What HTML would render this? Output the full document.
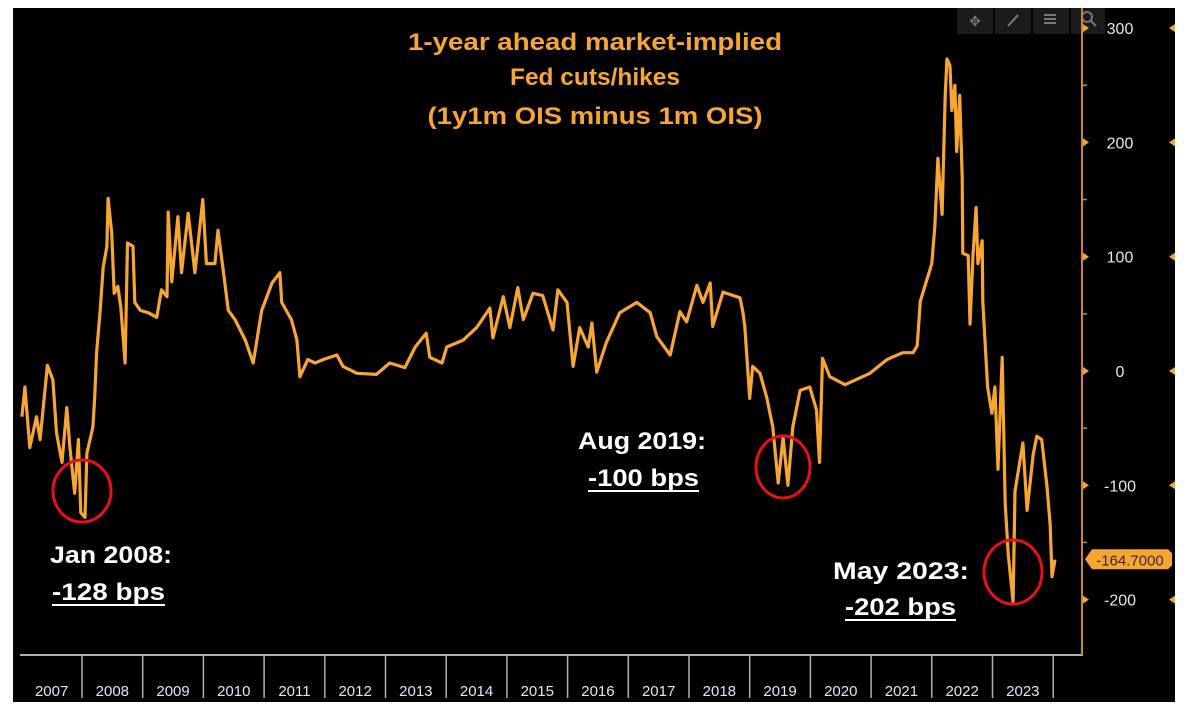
<!DOCTYPE html>
<html><head><meta charset="utf-8"><style>
html,body{margin:0;padding:0;background:#fff;}
svg{display:block;font-family:"Liberation Sans",sans-serif;}
</style></head><body>
<svg id="chart" width="1186" height="714" viewBox="0 0 1186 714" xmlns="http://www.w3.org/2000/svg">
<rect x="13" y="8" width="1162" height="694" fill="#000"/>
<g>
<rect x="957" y="8" width="36" height="26" fill="#1b1b1b"/>
<rect x="995" y="8" width="36" height="26" fill="#1b1b1b"/>
<rect x="1033" y="8" width="36" height="26" fill="#1b1b1b"/>
<rect x="1071" y="8" width="34" height="26" fill="#1b1b1b"/>
<text x="975" y="26" fill="#777" font-size="14" text-anchor="middle">✥</text>
<line x1="1008" y1="26" x2="1018" y2="15" stroke="#777" stroke-width="2"/>
<line x1="1044" y1="15" x2="1056" y2="15" stroke="#777" stroke-width="2"/><line x1="1044" y1="19" x2="1056" y2="19" stroke="#777" stroke-width="2"/><line x1="1044" y1="23" x2="1056" y2="23" stroke="#777" stroke-width="2"/>
<circle cx="1087" cy="17" r="5" fill="none" stroke="#777" stroke-width="2"/><line x1="1091" y1="21" x2="1096" y2="26" stroke="#777" stroke-width="2"/>
</g>
<g id="axes"></g>
<g id="series"></g>
<g fill="#f7a533" font-weight="bold" font-size="24" text-anchor="middle">
<text x="595" y="50" textLength="374" lengthAdjust="spacingAndGlyphs">1-year ahead market-implied</text>
<text x="595" y="85" textLength="170" lengthAdjust="spacingAndGlyphs">Fed cuts/hikes</text>
<text x="595" y="124" textLength="335" lengthAdjust="spacingAndGlyphs">(1y1m OIS minus 1m OIS)</text>
</g>
<g fill="#fff" font-weight="bold" font-size="24">
<text x="50" y="563" textLength="122" lengthAdjust="spacingAndGlyphs">Jan 2008:</text>
<text x="52" y="600" textLength="113" lengthAdjust="spacingAndGlyphs">-128 bps</text>
<line x1="52" y1="605" x2="165" y2="605" stroke="#fff" stroke-width="2"/>
<text x="578" y="449" textLength="128" lengthAdjust="spacingAndGlyphs">Aug 2019:</text>
<text x="588" y="486" textLength="111" lengthAdjust="spacingAndGlyphs">-100 bps</text>
<line x1="588" y1="491" x2="699" y2="491" stroke="#fff" stroke-width="2"/>
<text x="833" y="579" textLength="136" lengthAdjust="spacingAndGlyphs">May 2023:</text>
<text x="845" y="615" textLength="111" lengthAdjust="spacingAndGlyphs">-202 bps</text>
<line x1="845" y1="620" x2="956" y2="620" stroke="#fff" stroke-width="2"/>
</g>
<g fill="none" stroke="#e8101a" stroke-width="3">
<ellipse cx="82" cy="491" rx="29" ry="31"/>
<ellipse cx="783" cy="467" rx="27" ry="31"/>
<ellipse cx="1013" cy="572" rx="29" ry="32"/>
</g>
</svg>
<script>
const dates=[2007.01,2007.06,2007.14,2007.25,2007.31,2007.43,2007.52,2007.58,2007.67,2007.75,2007.80,2007.88,2007.94,2007.98,2008.05,2008.08,2008.18,2008.21,2008.24,2008.30,2008.35,2008.41,2008.43,2008.49,2008.53,2008.59,2008.64,2008.71,2008.75,2008.84,2008.87,2008.96,2009.09,2009.23,2009.31,2009.40,2009.42,2009.48,2009.58,2009.64,2009.75,2009.86,2009.99,2010.05,2010.19,2010.24,2010.32,2010.41,2010.52,2010.69,2010.82,2010.96,2011.13,2011.26,2011.29,2011.45,2011.54,2011.59,2011.72,2011.84,2011.97,2012.20,2012.30,2012.53,2012.85,2013.07,2013.32,2013.49,2013.67,2013.73,2013.93,2014.01,2014.28,2014.50,2014.72,2014.77,2014.94,2015.05,2015.18,2015.27,2015.43,2015.59,2015.76,2015.84,2015.99,2016.09,2016.20,2016.34,2016.40,2016.48,2016.64,2016.86,2017.14,2017.36,2017.47,2017.69,2017.85,2017.96,2018.13,2018.23,2018.35,2018.39,2018.56,2018.84,2018.89,2018.92,2019.00,2019.05,2019.17,2019.28,2019.38,2019.47,2019.55,2019.63,2019.71,2019.83,2019.99,2020.10,2020.15,2020.20,2020.32,2020.57,2020.98,2021.26,2021.52,2021.69,2021.76,2021.81,2021.92,2022.00,2022.05,2022.10,2022.17,2022.22,2022.25,2022.30,2022.33,2022.38,2022.41,2022.46,2022.50,2022.51,2022.60,2022.63,2022.68,2022.73,2022.76,2022.83,2022.84,2022.92,2022.99,2023.04,2023.09,2023.16,2023.21,2023.26,2023.34,2023.37,2023.50,2023.57,2023.67,2023.73,2023.81,2023.90,2023.95,2023.98,2024.03];
const values=[-40,-14,-67,-40,-60,5,-8,-54,-80,-32,-67,-107,-60,-124,-128,-72,-49,-23,16,53,91,109,151,121,68,74,56,7,112,109,60,53,51,47,71,65,139,78,135,86,138,86,150,94,94,123,91,53,45,27,7,53,77,86,60,45,27,-5,10,7,10,14,4,-2,-3,7,3,21,33,12,7,21,27,38,55,29,65,38,73,45,68,66,36,71,60,4,38,21,42,-1,25,51,60,51,30,14,52,43,75,60,77,39,69,64,51,39,-24,4,-2,-23,-49,-98,-58,-100,-49,-17,-14,-34,-80,11,-5,-12,-2,10,16,16,22,61,80,94,126,186,137,241,273,267,228,250,192,241,169,103,101,41,103,143,94,114,61,-14,-37,-14,-86,12,-116,-161,-202,-105,-63,-122,-73,-57,-60,-102,-135,-180,-165];
const yTicks=[300,200,100,0,-100,-200];
const yearLabels=["2007","2008","2009","2010","2011","2012","2013","2014","2015","2016","2017","2018","2019","2020","2021","2022","2023"];
const lastValue=-164.7;

const NS="http://www.w3.org/2000/svg";
const X=d=>82+(d-2008)*60.7;
const Y=v=>371-v*1.143;
function mk(tag,attrs,parent){const e=document.createElementNS(NS,tag);for(const k in attrs)e.setAttribute(k,attrs[k]);parent.appendChild(e);return e;}
const axes=document.getElementById('axes');
const ser=document.getElementById('series');

const xl=mk('line',{x1:20,y1:655,x2:1083,y2:655,stroke:'#b0b0b0','stroke-width':2},axes);


const yl=mk('line',{x1:1082,y1:8,x2:1082,y2:655,stroke:'#c98a2e','stroke-width':2},axes);



yearLabels.forEach((lab,i)=>{
  const yr=2007+i;
  if(i>0){const t=mk('line',{x1:X(yr),y1:655,x2:X(yr),y2:698,stroke:'#b0b0b0','stroke-width':1.5},axes);
    
    }
  const tx=mk('text',{x:X(yr+0.5),y:696,fill:'#e0e8f0','font-size':15,'text-anchor':'middle'},axes);
  tx.textContent=lab;
  
  
});
const endTick=mk('line',{x1:X(2024),y1:655,x2:X(2024),y2:698,stroke:'#b0b0b0','stroke-width':1.5},axes);



yTicks.forEach(v=>{
  const y=Y(v);
  const t=mk('path',{d:`M1083 ${y-4}L1089 ${y}L1083 ${y+4}Z`,fill:'#f7a533'},axes);
  
  
  const t2=mk('path',{d:`M1175 ${y-4}L1169 ${y}L1175 ${y+4}Z`,fill:'#f7a533'},axes);
  
  
  const tx=mk('text',{x:1120,y:y+6,fill:'#e0e8f0','font-size':16,'text-anchor':'middle'},axes);
  tx.textContent=String(v);
  
  
});
[250,150,50,-50,-150].forEach(v=>{
  const y=Y(v);
  const m=mk('line',{x1:1083,y1:y,x2:1087,y2:y,stroke:'#c98a2e','stroke-width':1.5},axes);
  
  
});

let d='';
dates.forEach((dt,i)=>{d+=(i?'L':'M')+X(dt).toFixed(1)+' '+Y(values[i]).toFixed(1);});
const line=mk('path',{d:d,fill:'none',stroke:'#f7a533','stroke-width':3.2,'stroke-linejoin':'round'},ser);



const ly=Y(lastValue);
const badge=mk('path',{d:`M1085 ${ly}L1092 ${ly-10}L1168 ${ly-10}L1172 ${ly-6}L1172 ${ly+6}L1168 ${ly+10}L1092 ${ly+10}Z`,fill:'#f7a533'},ser);


const bt=mk('text',{x:1130,y:ly+6,fill:'#3a2a10','font-size':15,'text-anchor':'middle'},ser);
bt.textContent=lastValue.toFixed(4);


</script>
</body></html>
